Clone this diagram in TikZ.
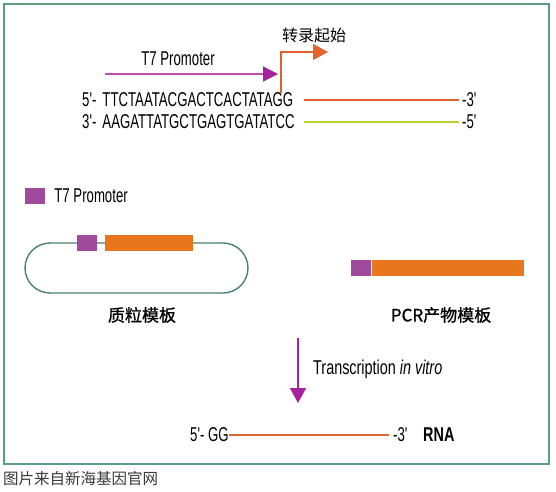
\documentclass[tikz,border=0pt]{standalone}
\usepackage{fontspec}
\setmainfont{Liberation Sans}
\newfontfamily\narrow[FakeStretch=0.66]{Liberation Sans}
\newfontfamily\narrowwide[FakeStretch=0.72]{Liberation Sans}
\newfontfamily\cjk{Noto Sans CJK SC}
\newfontfamily\cjkbold[FakeBold=1]{Noto Sans CJK SC}
\usetikzlibrary{positioning,arrows.meta}
\definecolor{framegreen}{HTML}{5C9E82}
\definecolor{plasmidgreen}{HTML}{4A826C}
\definecolor{promopink}{HTML}{C04AB2}
\definecolor{promomagenta}{HTML}{A8229C}
\definecolor{promopurple}{HTML}{A04A9E}
\definecolor{genorange}{HTML}{E8761C}
\definecolor{lineorange}{HTML}{E0642C}
\definecolor{lineyellow}{HTML}{B5D334}
\definecolor{captiongray}{HTML}{3A3A3A}
\begin{document}
\begin{tikzpicture}[x=1pt,y=-1pt,
  seq/.style={font=\narrow\fontsize{20}{20}\selectfont,inner sep=0pt,anchor=west},
  seqlabel/.style={font=\narrow\fontsize{20}{20}\selectfont,inner sep=0pt},
  cjklabel/.style={font=\cjkbold\fontsize{17}{17}\selectfont,inner sep=0pt},
  strand/.style={line width=2.6pt},
  promobox/.style={fill=promopurple,minimum width=20pt,minimum height=16pt,inner sep=0pt},
  genebox/.style={fill=genorange,minimum height=16pt,inner sep=0pt}]
\useasboundingbox (0,0) rectangle (556,491);
\draw[framegreen,line width=1.5pt] (4,4) rectangle (549,464);

% promoter and start of transcription
\node[seqlabel] (promtxt) at (178,59) {T7 Promoter};
\coordinate (promstart) at (105,74);
\coordinate (promend) at (278,74);
\draw[promopink,line width=1.2pt,-{Triangle[length=15pt,width=15pt,color=promomagenta]}] (promstart) -- (promend);
\node[font=\cjk\fontsize{16}{16}\selectfont,inner sep=0pt] (tsstxt) at (314,35) {转录起始};
\coordinate (tss) at (281,93);
\coordinate (tssend) at (328,52);
\draw[lineorange,line width=1.3pt,-{Triangle[length=15pt,width=16pt]}] (tss) |- (tssend);

% DNA template
\node[seq] (top5) at (82,100) {5'-\hspace{6pt}TTCTAATACGACTCACTATAGG};
\node[seq] (top3) at (462,100) {-3'};
\node[seq] (bot3) at (82,122) {3'-\hspace{6pt}AAGATTATGCTGAGTGATATCC};
\node[seq] (bot5) at (462,122) {-5'};
\draw[strand,lineorange] (304,100) -- ([xshift=-3pt]top3.west);
\draw[strand,lineyellow] (304,122) -- ([xshift=-3pt]bot5.west);

% legend
\node[promobox] (legbox) at (35,196) {};
\node[seqlabel,right=9pt of legbox] (legtxt) {T7 Promoter};

% plasmid
\node[draw=plasmidgreen,line width=1.4pt,rounded corners=25pt,minimum width=223pt,minimum height=50pt] (plasmid) at (136.5,268) {};
\node[promobox] (plpromo) at (87,242.5) {};
\node[genebox,minimum width=88pt] (plgene) at (149,242.5) {};
\node[cjklabel] (pltxt) at (142,315) {质粒模板};

% PCR product
\node[promobox] (pcrpromo) at (361,267.5) {};
\node[genebox,minimum width=152pt,right=1pt of pcrpromo] (pcrgene) {};
\node[cjklabel] (pcrtxt) at (441,315) {PCR产物模板};

% transcription
\coordinate (txstart) at (298,338);
\coordinate (txend) at (298,403);
\draw[promomagenta,line width=1.6pt,-{Triangle[length=15pt,width=16pt]}] (txstart) -- (txend);
\node[seq,font=\narrowwide\fontsize{20}{20}\selectfont] (txtxt) at (313,369) {Transcription \textit{in vitro}};

% RNA
\node[seq] (rna5) at (190,435) {5'- GG};
\node[seq] (rna3) at (393,435) {-3'};
\node[seq,font=\narrowwide\bfseries\fontsize{20}{20}\selectfont] (rnatxt) at (423,435) {RNA};
\draw[strand,lineorange] (rna5.east) -- ([xshift=-4pt]rna3.west);

\node[font=\cjk\fontsize{15.5}{15.5}\selectfont,text=captiongray,inner sep=0pt,anchor=west] (caption) at (3,479) {图片来自新海基因官网};
\end{tikzpicture}
\end{document}
